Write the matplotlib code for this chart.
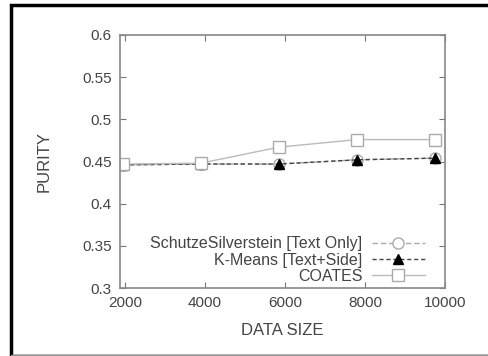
import matplotlib
matplotlib.use("Agg")
import matplotlib.pyplot as plt
from matplotlib.patches import Rectangle

plt.rcParams["font.family"] = ["Liberation Sans", "DejaVu Sans"]

data_size = [1950, 3900, 5850, 7800, 9750]
schutze = [0.446, 0.447, 0.447, 0.452, 0.454]
kmeans = [0.446, 0.447, 0.447, 0.452, 0.454]
coates = [0.447, 0.448, 0.467, 0.476, 0.476]
xticks = [2000, 4000, 6000, 8000, 10000]
yticks = [0.3, 0.35, 0.4, 0.45, 0.5, 0.55, 0.6]
ytick_labels = ["0.3", "0.35", "0.4", "0.45", "0.5", "0.55", "0.6"]

W, H = 488, 356
fig = plt.figure(figsize=(W / 100, H / 100), dpi=100)
ax = fig.add_axes([120 / W, 1 - 288 / H, (445 - 120) / W, (288 - 35) / H])

ax.plot(data_size, schutze, color="#aaaaaa", ls=(0, (4, 2)), lw=1, marker="o",
        ms=8, mfc="white", mec="#aaaaaa", label="SchutzeSilverstein [Text Only]")
ax.plot(data_size, kmeans, color="#444444", ls=(0, (3, 2)), lw=1, marker="^",
        ms=7, mfc="black", mec="black", label="K-Means [Text+Side]")
ax.plot(data_size, coates, color="#bbbbbb", ls="-", lw=1, marker="s",
        ms=9, mfc="white", mec="#aaaaaa", label="COATES")

ax.set_xlim(1880, 10000)
ax.set_ylim(0.3, 0.6)
ax.set_xticks(xticks)
ax.set_yticks(yticks)
ax.set_yticklabels(ytick_labels)
ax.tick_params(direction="in", top=True, right=True, length=4, color="#777777",
               labelsize=11, labelcolor="#444444", pad=6)
for s in ax.spines.values():
    s.set_color("#888888")
    s.set_linewidth(1.2)

ax.set_xlabel("DATA SIZE", fontsize=12, color="#444444", labelpad=9)
ax.set_ylabel("PURITY", fontsize=12, color="#444444", labelpad=22)

leg = ax.legend(loc="lower right", bbox_to_anchor=(0.938, 0.016), frameon=False,
                markerfirst=False, fontsize=11.5, labelspacing=0.08,
                handlelength=3.3, handletextpad=0.6, borderaxespad=0.0,
                borderpad=0.0)
for t in leg.get_texts():
    t.set_color("#444444")

fig.patches.append(Rectangle((11 / W, 0.0), 1.2, 1 - 5 / H, transform=fig.transFigure,
                             fill=False, edgecolor="black", lw=2.5, clip_on=False))
fig.patches.append(Rectangle((11 / W, 1 / H), 1.0, 0, transform=fig.transFigure,
                             fill=False, edgecolor="#999999", lw=1))

fig.savefig("out.png", dpi=100)
